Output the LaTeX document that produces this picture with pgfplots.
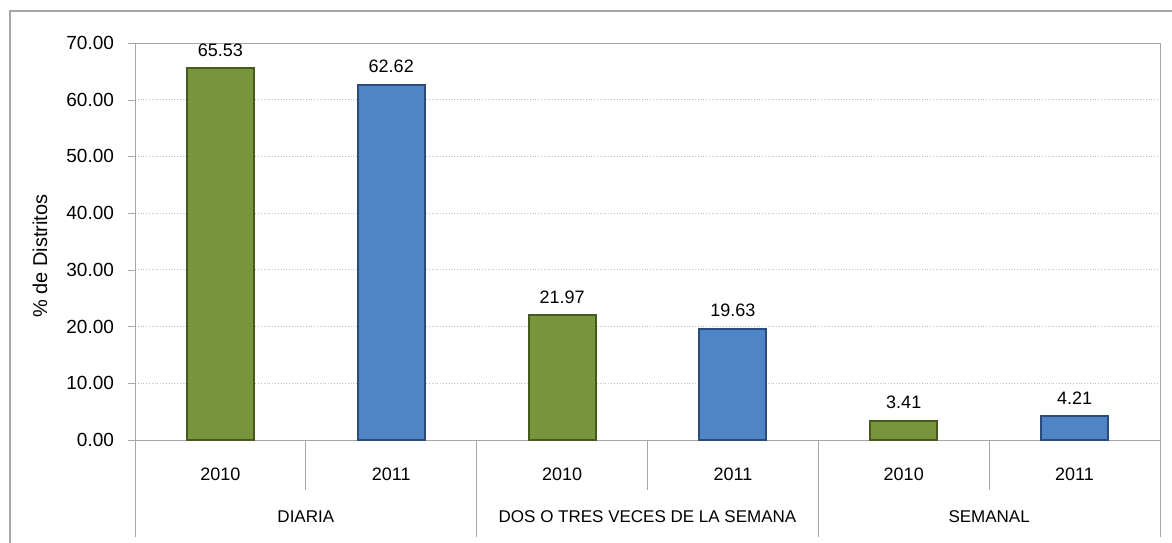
\documentclass[border=0pt]{standalone}
\usepackage{pgfplots}
\pgfplotsset{compat=1.18}
\usepackage{fontspec}
\setmainfont{Liberation Sans}
\definecolor{verde}{HTML}{77963C}
\definecolor{verdeosc}{HTML}{465A1E}
\definecolor{azul}{HTML}{4F85C6}
\definecolor{azulosc}{HTML}{2A4C78}
\definecolor{eje}{HTML}{A6A6A6}
\begin{document}
\begin{tikzpicture}
\useasboundingbox (0,0) rectangle (586pt,271pt);
% marco exterior (solo se ven los lados izquierdo y superior)
\draw[eje, line width=0.9pt] (5pt,-2pt) -- (5pt,265.5pt) -- (590pt,265.5pt);
\begin{axis}[
  at={(67.5pt,51pt)}, anchor=south west,
  scale only axis,
  width=512.5pt, height=198.5pt,
  xmin=-0.5, xmax=5.5,
  ymin=0, ymax=70,
  ytick={0,10,...,70},
  ytick pos=left,
  tick align=outside,
  major tick length=3.5pt,
  ytick style={eje},
  xtick={0,...,5},
  xticklabels={2010,2011,2010,2011,2010,2011},
  xtick style={draw=none},
  xticklabel style={anchor=center, yshift=-13.5pt, font=\fontsize{9}{11}\selectfont},
  yticklabel style={font=\fontsize{9.5}{11}\selectfont, xshift=-3.5pt,
    /pgf/number format/.cd, fixed, fixed zerofill, precision=2, assume math mode=true},
  axis line style={eje},
  ymajorgrids,
  major grid style={gray!50, densely dotted},
  clip=false,
  ybar, bar width=33.5pt,
  nodes near coords={\pgfmathprintnumber[fixed,fixed zerofill,precision=2,assume math mode=true]{\pgfplotspointmeta}},
  nodes near coords style={font=\fontsize{9}{11}\selectfont, yshift=2.2pt, black},
]
\addplot[bar shift=0pt, fill=verde, draw=verdeosc, line width=1pt]
  coordinates {(0,65.53) (2,21.97) (4,3.41)};
\addplot[bar shift=0pt, fill=azul, draw=azulosc, line width=1pt]
  coordinates {(1,62.62) (3,19.63) (5,4.21)};

% separadores del eje de categorias
\draw[eje] (axis cs:0.5,0) -- ([yshift=-25pt]axis cs:0.5,0);
\draw[eje] (axis cs:2.5,0) -- ([yshift=-25pt]axis cs:2.5,0);
\draw[eje] (axis cs:4.5,0) -- ([yshift=-25pt]axis cs:4.5,0);
\draw[eje] (axis cs:-0.5,0) -- ([yshift=-48.5pt]axis cs:-0.5,0);
\draw[eje] (axis cs:1.5,0) -- ([yshift=-48.5pt]axis cs:1.5,0);
\draw[eje] (axis cs:3.5,0) -- ([yshift=-48.5pt]axis cs:3.5,0);
\draw[eje] (axis cs:5.5,0) -- ([yshift=-48.5pt]axis cs:5.5,0);

\node[font=\fontsize{8.5}{10}\selectfont] at ([yshift=-38.5pt]axis cs:0.5,0) {DIARIA};
\node[font=\fontsize{8.5}{10}\selectfont] at ([yshift=-38.5pt]axis cs:2.5,0) {DOS O TRES VECES DE LA SEMANA};
\node[font=\fontsize{8.5}{10}\selectfont] at ([yshift=-38.5pt]axis cs:4.5,0) {SEMANAL};
\end{axis}
\node[rotate=90, font=\fontsize{10}{12}\selectfont] at (20pt,143pt) {\% de Distritos};
\end{tikzpicture}
\end{document}
